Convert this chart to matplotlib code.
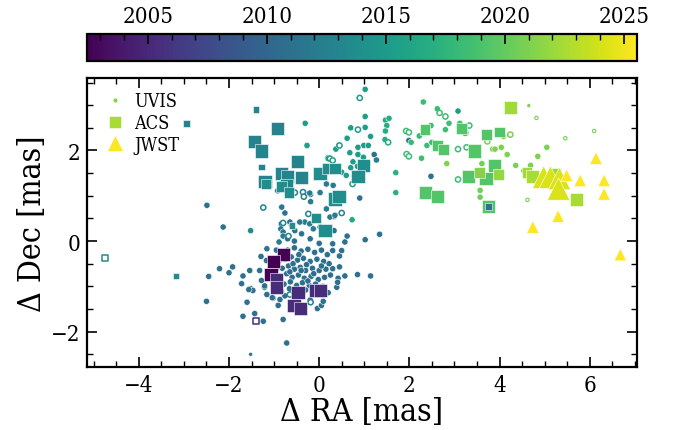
import matplotlib
matplotlib.use("Agg")
import matplotlib.pyplot as plt
import numpy as np
from matplotlib.ticker import MultipleLocator
from matplotlib.lines import Line2D

plt.rcParams["font.family"] = ["DejaVu Serif"]
plt.rcParams["font.stretch"] = "condensed"
plt.rcParams["mathtext.fontset"] = "custom"
plt.rcParams["mathtext.rm"] = "DejaVu Serif:stretch=condensed"

# ---------------- UVIS (filled circles) ----------------
uvis_ra = [
    -2.49, -2.13, -1.52, -2.21, -1.92, -2.00, -2.45, -2.50, -1.69, -1.72, -1.54, -1.52, -1.47,
    -1.60, -1.69, -1.43, -1.24, -1.21, -1.32, -1.17, -1.02, -0.91, -0.80, -0.72, -1.28,
    -1.16, -1.29, -1.56, -1.16, -1.04, -0.87, -0.76, -0.84, -1.21,
    0.33, 0.30, 0.30, 0.50, 0.45, 0.30, 0.45, 0.85, 1.14, 0.57, 0.42, 1.34, 1.02, 0.62, 0.57,
    0.90, 0.20, 0.39, 0.41, -0.04, 0.05, 0.09, -0.20, 0.33,
    -0.83, -0.76, -0.84, -0.65, -0.61, -0.85, -0.80, -0.54, -0.39, -0.80, -0.89, -0.32, -0.21,
    -0.13, 0.02, 0.16, 0.24, 0.35, -0.43, -0.19, -0.19, -0.35, -0.21, 0.02, -0.92, 0.16, 0.31,
    -0.85, -0.70, -0.55, -0.40, -0.25, -0.10, 0.05, 0.18,
    -0.90, -0.75, -0.62, -0.48, -0.35, -0.20, -0.05, 0.10, 0.22,
    -0.82, -0.68, -0.55, -0.42, -0.30, -0.15, 0.00, 0.15,
    -0.88, -0.72, -0.60, -0.46, -0.33, -0.18, -0.02, 0.12, 0.25,
    -0.78, -0.64, -0.50, -0.37, -0.22, -0.08, 0.08,
    -0.66, -0.52, -0.30, -0.15,
    -0.58, -0.45, -0.28, -0.12, -0.65, -0.40, -0.25, 0.05, -0.95, -1.00, -0.95, 0.00, -0.20,
    -0.55, -0.70,
    0.73, 1.70, 1.70,
    -0.31, -0.27, 0.37, 0.44, 0.19, 1.02, 1.02, 0.70, 1.02, 1.14, 0.62, 0.99, 1.09, 0.86, 0.68,
    0.86, 0.98, 0.75, 0.85, 0.70, 0.95, 0.50, 0.20, 0.60, 0.40,
    1.22, 1.27,
    1.47, 1.55, 1.50, 1.47, 1.46,
    2.31, 2.62, 3.08, 2.88, 2.80, 2.48, 3.12, 1.99, 2.04, 2.22, 2.39, 2.50, 2.27, 2.83, 2.48,
    3.61, 3.57, 3.57,
    4.09, 3.85, 3.90, 4.04, 5.05, 4.17, 4.85, 4.36, 4.69, 4.54,
]
uvis_dec = [
    0.79, 0.31, 0.23, -0.61, -0.57, -0.70, -0.78, -1.33, -0.77, -0.94, -0.65, -1.05, -1.09,
    -1.35, -1.66, -1.60, -1.77, -1.02, -0.65, -0.43, -1.26, -1.42, -1.73, -2.25, -0.87,
    -0.17, -0.34, -1.07, -1.18, -1.25, -1.29, -1.21, -1.11, -0.99,
    0.23, -0.06, -0.21, -0.21, -0.33, -0.61, -0.57, -0.74, -0.77, -0.77, -0.82, 0.15, 0.03, 0.11, -0.02,
    0.95, -1.14, -1.02, -0.91, -1.49, -1.42, -1.33, -1.30, 0.54,
    0.75, 0.62, 0.38, 0.42, 0.34, 0.27, 0.20, 0.23, 0.16, 0.11, -0.02, 0.42, 0.38,
    0.27, 0.31, 0.71, 0.53, 0.57, 0.42, 0.87, 1.03, 1.08, 1.06, 1.07, 1.11, 1.26, 1.23,
    -0.25, -0.20, -0.15, -0.22, -0.18, -0.25, -0.20, -0.30,
    -0.45, -0.40, -0.35, -0.42, -0.38, -0.45, -0.40, -0.45, -0.50,
    -0.60, -0.55, -0.62, -0.58, -0.65, -0.60, -0.65, -0.62,
    -0.78, -0.72, -0.80, -0.75, -0.82, -0.78, -0.85, -0.80, -0.75,
    -0.95, -0.90, -0.98, -0.92, -0.98, -0.95, -1.00,
    -1.05, -1.10, -1.08, -1.15,
    -0.50, -0.30, -0.52, -0.72, -0.68, -0.65, -0.88, -0.55, -0.62, -0.85, -0.20, -0.05, 0.05,
    0.00, 0.05,
    0.47, 1.07, 1.51,
    2.60, 2.11, 2.03, 2.11, 1.84, 3.35, 2.75, 2.50, 2.51, 2.31, 2.27, 2.11, 2.11, 2.07, 1.95,
    1.91, 1.85, 1.75, 1.65, 1.62, 1.70, 1.52, 1.82, 1.45, 1.60,
    1.91, 1.79,
    2.67, 2.71, 2.55, 2.43, 2.24,
    3.07, 2.92, 2.87, 2.60, 2.46, 2.55, 2.60, 2.22, 2.18, 2.32, 2.11, 2.18, 1.83, 1.71, 1.43,
    1.71, 1.12, 0.97,
    2.31, 2.03, 2.03, 2.07, 2.07, 1.91, 1.87, 1.67, 1.67, 1.55,
]
uvis_year = (
    [2011.0] * 2 + [2013.5] + [2011.0] * 31
    + [2011.0] * 24
    + [2011.5] * 9 + [2012.0] * 18
    + [2010.8] * 8 + [2010.8] * 9 + [2010.8] * 8 + [2010.8] * 9 + [2010.8] * 7 + [2010.8] * 4
    + [2010.8] * 13 + [2011.2] * 2
    + [2016.3, 2017.2, 2017.2]
    + [2015.2] * 25
    + [2011.0, 2012.5]
    + [2016.8] * 5
    + [2018.2, 2018.2, 2015.0, 2018.5, 2018.5, 2018.2, 2018.7, 2011.0, 2018.0, 2018.0, 2018.3,
       2018.3, 2018.3, 2021.3, 2011.0]
    + [2020.5, 2020.5, 2020.5]
    + [2021.0] * 10
)

# UVIS exposures with fewer frames
uvis_small_ra = [4.65, -1.52]
uvis_small_dec = [2.99, -2.50]
uvis_small_year = [2020.8, 2011.0]

# hollow UVIS points
uvis_open_ra = [-1.24, -0.80, -0.68, -0.24, -0.54, -0.36, -0.34, 0.50, -0.65, -0.19,
                0.90, 0.86, 0.45, 0.24, 0.30, 0.74, 1.53,
                2.67, 2.80, 3.33, 3.24, 1.93, 1.99, 1.94, 1.99, 3.08, 3.27, 3.08,
                4.24, 3.73]
uvis_open_dec = [0.74, 0.40, 0.11, 0.60, 1.07, 1.08, 0.98, 0.62, -1.18, -1.35,
                 3.16, 2.46, 2.11, 1.82, 1.78, 1.26, 2.18,
                 2.83, 2.75, 2.55, 2.39, 2.43, 2.40, 1.92, 1.87, 2.03, 2.07, 1.36,
                 2.35, 2.20]
uvis_open_year = [2012.5] * 10 + [2015.2] * 6 + [2016.8] + [2018.3] * 11 + [2020.8] * 2

uvis_small_open_ra = [4.82, 6.10, 5.46, 4.62]
uvis_small_open_dec = [2.72, 2.43, 2.27, 0.91]
uvis_small_open_year = [2020.8, 2020.8, 2020.8, 2020.8]

# ---------------- ACS (squares) ----------------
acs_ra = [
    -0.80, -1.02, -1.07,
    -0.95, -0.95, -0.47, -0.07, 0.03, -0.56, -0.41,
    -2.94, -1.40, -0.92, -1.44, -1.28, -0.48, -1.28, -0.84, -0.71, -1.20, -0.39, -0.72,
    0.02, 0.20, 0.35, -0.83, -0.67, -1.18, 0.35, 0.44, -0.07, 0.13, -0.60, 0.98, 0.86, -3.18,
    2.35, 3.16, 2.62, 2.76, 3.44, 3.31, 2.35, 2.63, 3.72, 4.00, 3.88, 3.70, 3.76,
    4.24, 3.56, 3.98, 4.61, 4.73, 5.25, 5.70,
    3.76,
]
acs_dec = [
    -0.30, -0.46, -0.74,
    -0.85, -1.02, -1.14, -1.10, -1.10, -1.42, -1.49,
    2.59, 2.91, 2.48, 2.19, 1.99, 1.75, 1.63, 1.50, 1.43, 1.32, 1.40, 1.23,
    1.50, 1.60, 1.60, 1.21, 1.08, 1.26, 0.93, 0.98, 0.51, 0.23, 0.34, 1.67, 1.43, -0.77,
    2.46, 2.48, 2.11, 2.02, 1.99, 1.43, 1.07, 0.98, 2.35, 2.41, 1.67, 1.38, 0.76,
    2.95, 1.51, 1.47, 1.51, 1.43, 1.49, 0.91,
    0.76,
]
acs_year = (
    [2002.5] * 3
    + [2005.3] * 7
    + [2012.8] * 12
    + [2013.8] * 14
    + [2019.3] * 13
    + [2022.3, 2021.3, 2021.8, 2022.3, 2022.5, 2022.0, 2022.5]
    + [2011.0]
)
acs_weight = [
    90, 90, 90,
    90, 90, 90, 90, 90, 90, 90,
    22, 22, 90, 90, 90, 90, 22, 90, 90, 90, 90, 90,
    90, 70, 70, 60, 60, 60, 90, 90, 60, 90, 22, 90, 90, 22,
    60, 60, 60, 60, 90, 90, 90, 90, 60, 60, 90, 90, 90,
    90, 60, 60, 60, 90, 60, 90,
    25,
]

acs_open_ra = [-1.40, -4.76]
acs_open_dec = [-1.77, -0.37]
acs_open_year = [2005.3, 2013.5]

# ---------------- JWST (triangles) ----------------
jwst_ra = [4.98, 5.13, 5.33, 5.31, 5.49, 5.79, 6.32, 6.32, 6.14, 5.30, 4.74, 6.68]
jwst_dec = [1.41, 1.41, 1.38, 1.15, 1.45, 1.34, 1.34, 1.04, 1.83, 0.55, 0.31, -0.30]
jwst_year = [2024.2, 2024.2, 2024.2, 2024.2, 2025.5, 2025.5, 2025.5, 2025.5, 2025.5,
             2025.5, 2025.5, 2025.5]
jwst_weight = [260, 260, 260, 260, 80, 80, 80, 80, 80, 80, 80, 80]

year_min, year_max = 2002.45, 2025.55

# ---------------- figure ----------------
fig = plt.figure(figsize=(6.78, 4.31), dpi=100)
ax = fig.add_axes([87 / 678, 1 - 368 / 431, 550 / 678, 289 / 431])
cax = fig.add_axes([87 / 678, 1 - 62 / 431, 550 / 678, 27 / 431])

cmap = plt.get_cmap("viridis")
norm = matplotlib.colors.Normalize(vmin=year_min, vmax=year_max)
edge = dict(edgecolors="white", linewidths=0.4)

ax.scatter(uvis_ra, uvis_dec, c=uvis_year, cmap=cmap, norm=norm, s=20, marker="o", zorder=3, **edge)
ax.scatter(uvis_small_ra, uvis_small_dec, c=uvis_small_year, cmap=cmap, norm=norm, s=8,
           marker="o", zorder=3, **edge)
ax.scatter(uvis_open_ra, uvis_open_dec, facecolors="white",
           edgecolors=cmap(norm(np.array(uvis_open_year))), s=14, linewidths=1.1,
           marker="o", zorder=4)
ax.scatter(uvis_small_open_ra, uvis_small_open_dec, facecolors="white",
           edgecolors=cmap(norm(np.array(uvis_small_open_year))), s=6, linewidths=0.8,
           marker="o", zorder=4)
ax.scatter(acs_ra, acs_dec, c=acs_year, cmap=cmap, norm=norm, s=acs_weight, marker="s",
           zorder=5, **edge)
ax.scatter(acs_open_ra, acs_open_dec, facecolors="white",
           edgecolors=cmap(norm(np.array(acs_open_year))), s=18, linewidths=1.1,
           marker="s", zorder=5)
ax.scatter(jwst_ra, jwst_dec, c=jwst_year, cmap=cmap, norm=norm, s=jwst_weight, marker="^",
           zorder=6, **edge)

ax.set_xlim(-5.15, 7.05)
ax.set_ylim(-2.78, 3.6)
ax.xaxis.set_major_locator(MultipleLocator(2))
ax.xaxis.set_minor_locator(MultipleLocator(0.5))
ax.yaxis.set_major_locator(MultipleLocator(2))
ax.yaxis.set_minor_locator(MultipleLocator(0.5))
ax.tick_params(which="both", direction="in", top=True, right=True, labelsize=16, pad=5)
ax.tick_params(which="major", length=7, width=1.2)
ax.tick_params(which="minor", length=4, width=1.0)
for sp in ax.spines.values():
    sp.set_linewidth(1.6)
ax.set_xlabel("Δ RA [mas]", fontsize=23, labelpad=0)
ax.set_ylabel("Δ Dec [mas]", fontsize=23, labelpad=2)

handles = [
    Line2D([], [], ls="none", marker="o", ms=3.5, mfc=cmap(0.82), mec="white", mew=0.4),
    Line2D([], [], ls="none", marker="s", ms=8, mfc=cmap(0.87), mec="white", mew=0.4),
    Line2D([], [], ls="none", marker="^", ms=11, mfc=cmap(1.0), mec="white", mew=0.4),
]
ax.legend(handles, ["UVIS", "ACS", "JWST"], loc="upper left", frameon=False, fontsize=13,
          handletextpad=0.3, labelspacing=0.2, borderaxespad=0.4, handlelength=1.5)

sm = matplotlib.cm.ScalarMappable(norm=norm, cmap=cmap)
cb = fig.colorbar(sm, cax=cax, orientation="horizontal")
cb.outline.set_linewidth(1.6)
cax.xaxis.set_ticks_position("top")
cax.xaxis.set_label_position("top")
cax.xaxis.set_major_locator(MultipleLocator(5))
cax.xaxis.set_minor_locator(MultipleLocator(1))
cax.tick_params(which="both", direction="in", labelsize=16, bottom=False, top=True, pad=5)
cax.tick_params(which="major", length=7, width=1.2)
cax.tick_params(which="minor", length=4, width=1.0)

fig.savefig("out.png", dpi=100)
